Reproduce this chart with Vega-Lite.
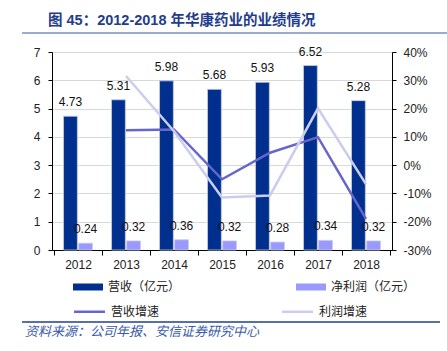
{
  "$schema": "https://vega.github.io/schema/vega-lite/v6.json",
  "width": 340,
  "height": 198,
  "autosize": "none",
  "padding": {"left": 52, "top": 52, "right": 55, "bottom": 101},
  "title": {
    "text": "图 45：2012-2018 年华康药业的业绩情况",
    "anchor": "start",
    "frame": "group",
    "dx": -4,
    "offset": 4,
    "font": "Liberation Sans, Noto Sans CJK SC",
    "fontSize": 14.5,
    "fontWeight": "bold",
    "color": "#1f3d8a"
  },
  "datasets": {
    "bars": [
      {"year": "2012", "series": "营收（亿元）", "value": 4.73},
      {"year": "2012", "series": "净利润（亿元）", "value": 0.24},
      {"year": "2013", "series": "营收（亿元）", "value": 5.31},
      {"year": "2013", "series": "净利润（亿元）", "value": 0.32},
      {"year": "2014", "series": "营收（亿元）", "value": 5.98},
      {"year": "2014", "series": "净利润（亿元）", "value": 0.36},
      {"year": "2015", "series": "营收（亿元）", "value": 5.68},
      {"year": "2015", "series": "净利润（亿元）", "value": 0.32},
      {"year": "2016", "series": "营收（亿元）", "value": 5.93},
      {"year": "2016", "series": "净利润（亿元）", "value": 0.28},
      {"year": "2017", "series": "营收（亿元）", "value": 6.52},
      {"year": "2017", "series": "净利润（亿元）", "value": 0.34},
      {"year": "2018", "series": "营收（亿元）", "value": 5.28},
      {"year": "2018", "series": "净利润（亿元）", "value": 0.32}
    ],
    "lines": [
      {"year": "2013", "series": "营收增速", "value": 12.3},
      {"year": "2014", "series": "营收增速", "value": 12.6},
      {"year": "2015", "series": "营收增速", "value": -5.0},
      {"year": "2016", "series": "营收增速", "value": 4.4},
      {"year": "2017", "series": "营收增速", "value": 9.9},
      {"year": "2018", "series": "营收增速", "value": -19.0},
      {"year": "2013", "series": "利润增速", "value": 31.5},
      {"year": "2014", "series": "利润增速", "value": 12.0},
      {"year": "2015", "series": "利润增速", "value": -11.4},
      {"year": "2016", "series": "利润增速", "value": -10.7},
      {"year": "2017", "series": "利润增速", "value": 20.1},
      {"year": "2018", "series": "利润增速", "value": -6.7}
    ],
    "footer": [{"t": "资料来源：公司年报、安信证券研究中心"}],
    "one": [{"k": 1}]
  },
  "config": {
    "view": {"stroke": null},
    "axis": {
      "labelFont": "Liberation Sans",
      "labelFontSize": 12,
      "labelColor": "#222222",
      "domainColor": "#000000",
      "tickColor": "#000000",
      "tickSize": 4,
      "titleFontSize": 12
    },
    "legend": {
      "labelFont": "Noto Sans CJK SC",
      "labelFontSize": 12,
      "labelColor": "#222222"
    }
  },
  "layer": [
    {
      "data": {"name": "bars"},
      "encoding": {
        "x": {
          "field": "year",
          "type": "nominal",
          "scale": {"paddingInner": 0, "paddingOuter": 0.042},
          "axis": {
            "title": null,
            "labelAngle": 0,
            "tickBand": "extent",
            "labelPadding": 4,
            "tickSize": 5
          }
        },
        "xOffset": {
          "field": "series",
          "type": "nominal",
          "scale": {"domain": ["营收（亿元）", "净利润（亿元）"], "paddingInner": 0.086, "paddingOuter": 0.63}
        },
        "y": {
          "field": "value",
          "type": "quantitative",
          "scale": {"domain": [0, 7]},
          "axis": {
            "title": null,
            "values": [0, 1, 2, 3, 4, 5, 6, 7],
            "grid": true,
            "gridColor": "#d9d9d9",
            "labelPadding": 8
          }
        }
      },
      "layer": [
        {
          "mark": {"type": "bar", "stroke": "#c5cde6", "strokeWidth": 0.8},
          "encoding": {
            "fill": {
              "field": "series",
              "type": "nominal",
              "scale": {
                "domain": ["营收（亿元）", "净利润（亿元）"],
                "range": ["#002f8e", "#9999ff"]
              },
              "legend": {
                "title": null,
                "orient": "none",
                "direction": "horizontal",
                "legendX": 26,
                "legendY": 225,
                "columns": 2,
                "columnPadding": 115,
                "padding": 0,
                "symbolSize": 400,
                "symbolType": "M-1.5,-0.35H1.5V0.35H-1.5Z",
                "symbolStrokeWidth": 0,
                "symbolOpacity": 1,
                "labelOffset": 10
              }
            }
          }
        },
        {
          "mark": {"type": "text", "baseline": "alphabetic", "dy": -10, "font": "Liberation Sans", "fontSize": 12, "color": "#111111"},
          "encoding": {
            "text": {"field": "value", "type": "quantitative", "format": ".2f"}
          }
        }
      ]
    },
    {
      "data": {"name": "lines"},
      "mark": {"type": "line", "strokeWidth": 2.5},
      "encoding": {
        "x": {"field": "year", "type": "nominal"},
        "y": {
          "field": "value",
          "type": "quantitative",
          "scale": {"domain": [-30, 40]},
          "axis": {
            "orient": "right",
            "title": null,
            "values": [-30, -20, -10, 0, 10, 20, 30, 40],
            "labelExpr": "datum.value + '%'",
            "grid": false,
            "labelPadding": 7
          }
        },
        "stroke": {
          "field": "series",
          "type": "nominal",
          "scale": {"domain": ["营收增速", "利润增速"], "range": ["#6666cc", "#ccccee"]},
          "legend": {
            "title": null,
            "orient": "none",
            "direction": "horizontal",
            "legendX": 26,
            "legendY": 248,
            "columns": 2,
            "columnPadding": 117,
            "padding": 0,
            "symbolSize": 400,
            "symbolType": "M-1.55,0H1.55",
            "symbolStrokeWidth": 2.5,
            "symbolOpacity": 1,
            "labelOffset": 10
          }
        }
      }
    },
    {
      "data": {"name": "one"},
      "mark": {"type": "rule", "color": "#9aaad4", "strokeWidth": 2},
      "encoding": {"x": {"value": -30}, "x2": {"value": 395}, "y": {"value": -19}}
    },
    {
      "data": {"name": "one"},
      "mark": {"type": "rule", "color": "#1f3f8f", "strokeWidth": 1.5},
      "encoding": {"x": {"value": -30}, "x2": {"value": 388}, "y": {"value": 270}}
    },
    {
      "data": {"name": "footer"},
      "mark": {"type": "text", "align": "left", "baseline": "middle", "font": "Noto Sans CJK SC", "fontSize": 13, "fontStyle": "italic", "color": "#3a5ba8"},
      "encoding": {"text": {"field": "t"}, "x": {"value": -27}, "y": {"value": 280}}
    }
  ],
  "resolve": {"scale": {"y": "independent"}}
}
